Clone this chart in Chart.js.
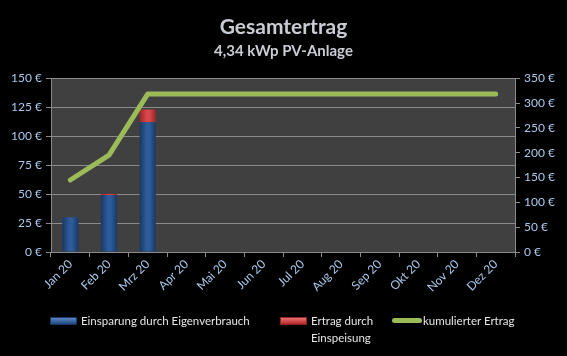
<!DOCTYPE html>
<html><head><meta charset="utf-8">
<script src="https://cdn.jsdelivr.net/npm/chart.js@4/dist/chart.umd.min.js"></script>
<style>
html,body{margin:0;padding:0;background:#000;}
#wrap{position:relative;width:567px;height:356px;}
canvas{position:absolute;left:0;top:0;}
#legend{position:absolute;left:0;top:312px;width:567px;height:40px;font-family:Lato,"Open Sans",sans-serif;font-size:11.5px;color:#e6e6e6;}
.item{position:absolute;display:flex;align-items:flex-start;line-height:17px;}
.sw{display:inline-block;margin-right:4px;}
</style></head>
<body><div id="wrap"><canvas id="c" width="567" height="356"></canvas><div id="legend"></div></div>
<script>
const categories = ['Jan 20','Feb 20','Mrz 20','Apr 20','Mai 20','Jun 20','Jul 20','Aug 20','Sep 20','Okt 20','Nov 20','Dez 20'];
const eigenverbrauch = [30, 49, 112, null, null, null, null, null, null, null, null, null];
const einspeisung = [0, 1, 11, null, null, null, null, null, null, null, null, null];
const kumuliert = [145, 195, 318, 318, 318, 318, 318, 318, 318, 318, 318, 318];
const seriesLabels = ['Einsparung durch Eigenverbrauch', ['Ertrag durch','Einspeisung'], 'kumulierter Ertrag'];

const FONT = 'Lato, "Open Sans", sans-serif';
const tickColor = '#a9c9ec';
const gridColor = '#8a8a8a';
const BAR_PCT = 0.42;

function barGrad(ctx, c1, c2){
  const chart = ctx.chart;
  const xs = chart.scales && chart.scales.x;
  if(!xs || !chart.chartArea || ctx.dataIndex === undefined) return c1;
  const x = xs.getPixelForValue(ctx.dataIndex);
  const w = (chart.chartArea.right - chart.chartArea.left) / categories.length * BAR_PCT;
  if(!isFinite(x) || !isFinite(w) || w <= 0) return c1;
  const g = chart.ctx.createLinearGradient(x - w/2, 0, x + w/2, 0);
  g.addColorStop(0, c1); g.addColorStop(0.45, c2); g.addColorStop(0.6, c2); g.addColorStop(1, c1);
  return g;
}

const bgPlugin = {
  id:'bg',
  beforeDraw(chart){
    const a = chart.chartArea, c = chart.ctx;
    c.save(); c.fillStyle = '#404040'; c.fillRect(a.left, a.top, a.right-a.left, a.bottom-a.top); c.restore();
  }
};

new Chart(document.getElementById('c'), {
  type:'bar',
  data:{
    labels: categories,
    datasets:[
      {label: seriesLabels[0], data: eigenverbrauch, yAxisID:'y', order:2,
       backgroundColor: ctx => barGrad(ctx, '#1a3862', '#2d5c9c'), borderWidth:0,
       barPercentage:BAR_PCT, categoryPercentage:1},
      {label: seriesLabels[1].join(' '), data: einspeisung, yAxisID:'y', order:2,
       backgroundColor: ctx => barGrad(ctx, '#9a2628', '#d8484a'), borderWidth:0,
       barPercentage:BAR_PCT, categoryPercentage:1},
      {type:'line', label: seriesLabels[2], data: kumuliert, yAxisID:'y1', order:0,
       borderColor:'#9bbb59', borderWidth:5, pointRadius:0, borderCapStyle:'round', borderJoinStyle:'round', tension:0}
    ]
  },
  options:{
    responsive:false, animation:false,
    layout:{padding:{left:0,right:0,top:0,bottom:56}},
    plugins:{
      legend:{display:false}, tooltip:{enabled:false},
      title:{display:true, text:'Gesamtertrag', color:'#c9ccd2', font:{family:FONT, size:21, weight:'bold'}, padding:{top:15,bottom:0}},
      subtitle:{display:true, text:'4,34 kWp PV-Anlage', color:'#c9ccd2', font:{family:FONT, size:15, weight:'bold'}, padding:{top:2,bottom:18}}
    },
    scales:{
      x:{stacked:true, offset:true,
         grid:{offset:true, drawOnChartArea:false, drawTicks:true, tickLength:5, color:gridColor},
         border:{color:gridColor},
         ticks:{color:tickColor, font:{family:FONT,size:12}, minRotation:45, maxRotation:45, padding:0},
         afterFit(s){ s.height = 48; }},
      y:{stacked:true, position:'left', min:0, max:150,
         grid:{color:gridColor, tickLength:5, drawTicks:true},
         border:{color:gridColor},
         ticks:{stepSize:25, color:tickColor, font:{family:FONT,size:12}, padding:4, callback:v=>v+' €'},
         afterFit(s){ s.width = 51; }},
      y1:{position:'right', min:0, max:350,
         grid:{drawOnChartArea:false, color:gridColor, tickLength:5},
         border:{color:gridColor},
         ticks:{stepSize:50, color:tickColor, font:{family:FONT,size:12}, padding:4, callback:v=>v+' €'},
         afterFit(s){ s.width = 52; }}
    }
  },
  plugins:[bgPlugin]
});

const leg = document.getElementById('legend');
const items = [
  {x:50, sw:'<span class="sw" style="width:25px;height:6px;margin-top:5px;background:linear-gradient(#5a86c4,#1f4a80);border:1px solid #17365d"></span>', t:seriesLabels[0]},
  {x:280, sw:'<span class="sw" style="width:25px;height:6px;margin-top:5px;background:linear-gradient(#f07070,#b02a2c);border:1px solid #8e2224"></span>', t:seriesLabels[1].join('<br>')},
  {x:392, sw:'<span class="sw" style="width:30px;height:5px;margin-top:6px;margin-right:1px;border-radius:3px;background:#9bbb59"></span>', t:seriesLabels[2]}
];
items.forEach(it=>{
  const d = document.createElement('div'); d.className='item'; d.style.left = it.x+'px';
  d.innerHTML = it.sw + '<span>'+it.t+'</span>'; leg.appendChild(d);
});
</script></body></html>
